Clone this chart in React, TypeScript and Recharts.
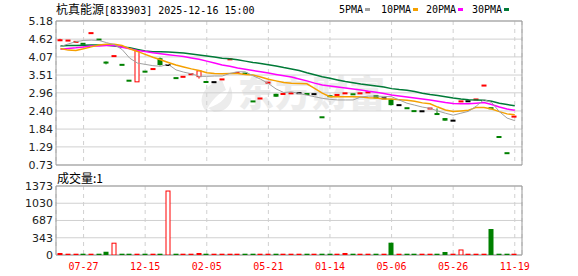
import React from 'react';
import { ComposedChart, Bar, Line, XAxis, YAxis, CartesianGrid, ReferenceArea } from 'recharts';

// ---- data ----
const tickIndex = [3, 11, 19, 27, 35, 43, 51, 59];
const tickDates = ['07-27', '12-15', '02-05', '05-21', '01-14', '05-06', '05-26', '11-19'];
const priceTicks = [0.73, 1.29, 1.84, 2.40, 2.96, 3.51, 4.07, 4.62, 5.18];
const volumeTicks = [0, 343, 687, 1030, 1373];

const opens = [4.58, 4.57, 4.53, 4.48, 4.80, 4.61, 3.90, 4.09, 3.83, 3.34, 3.30, 3.62, 3.69, 4.03, 3.82, 3.42, 3.45, 3.53, 3.46, 3.30, 3.29, 3.37, 3.99, 3.57, 3.56, 2.70, 2.78, 3.27, 2.93, 2.92, 2.94, 2.95, 2.93, 2.92, 2.21, 2.86, 2.89, 2.94, 2.92, 2.94, 2.97, 2.89, 2.79, 2.76, 2.58, 2.49, 2.40, 2.39, 2.47, 2.31, 2.18, 2.10, 2.69, 2.70, 2.75, 3.18, 2.49, 1.60, 1.10, 2.22];
const highs = [4.63, 4.58, 4.54, 4.48, 4.81, 4.61, 3.93, 4.10, 3.83, 3.34, 4.30, 3.62, 3.70, 4.05, 3.82, 3.42, 3.46, 3.54, 3.64, 3.30, 3.29, 3.38, 4.00, 3.58, 3.56, 2.70, 2.79, 3.28, 2.93, 2.93, 2.95, 2.95, 2.93, 2.92, 2.21, 2.86, 2.90, 2.95, 2.92, 2.95, 2.98, 2.89, 2.79, 2.77, 2.58, 2.49, 2.40, 2.39, 2.48, 2.48, 2.18, 2.10, 2.70, 2.70, 2.76, 3.19, 2.49, 1.60, 1.10, 2.23];
const lows = [4.56, 4.57, 4.53, 4.47, 4.80, 4.60, 3.84, 4.09, 3.82, 3.33, 3.30, 3.61, 3.69, 3.80, 3.82, 3.41, 3.45, 3.53, 3.40, 3.29, 3.29, 3.37, 3.99, 3.57, 3.55, 2.69, 2.78, 3.27, 2.84, 2.92, 2.94, 2.95, 2.92, 2.92, 2.20, 2.85, 2.89, 2.94, 2.91, 2.94, 2.97, 2.79, 2.79, 2.57, 2.58, 2.48, 2.39, 2.39, 2.47, 2.30, 2.10, 2.10, 2.69, 2.70, 2.75, 3.18, 2.48, 1.59, 1.09, 2.22];
const closes = [4.59, 4.58, 4.54, 4.47, 4.81, 4.60, 3.89, 4.10, 3.82, 3.33, 4.28, 3.61, 3.70, 3.82, 3.82, 3.41, 3.46, 3.54, 3.64, 3.29, 3.29, 3.38, 4.00, 3.58, 3.55, 2.69, 2.79, 3.28, 2.84, 2.93, 2.95, 2.95, 2.92, 2.92, 2.20, 2.85, 2.90, 2.95, 2.91, 2.95, 2.98, 2.79, 2.79, 2.58, 2.58, 2.48, 2.39, 2.39, 2.48, 2.30, 2.10, 2.10, 2.70, 2.70, 2.76, 3.19, 2.48, 1.59, 1.09, 2.23];
const volumes = [40, 20, 20, 20, 20, 20, 65, 235, 20, 20, 20, 20, 20, 20, 1273, 20, 20, 20, 40, 20, 20, 20, 20, 20, 20, 20, 20, 20, 20, 20, 20, 20, 20, 20, 20, 20, 20, 40, 20, 20, 20, 20, 20, 245, 20, 20, 20, 20, 20, 20, 60, 20, 100, 20, 20, 20, 517, 20, 20, 20];

const ma5 = [4.39, 4.47, 4.54, 4.58, 4.59, 4.58, 4.51, 4.45, 4.30, 4.03, 3.88, 3.84, 3.80, 3.78, 3.84, 3.67, 3.60, 3.55, 3.47, 3.47, 3.48, 3.48, 3.56, 3.61, 3.61, 3.49, 3.38, 3.25, 3.08, 2.97, 2.99, 2.94, 2.89, 2.84, 2.79, 2.76, 2.74, 2.74, 2.74, 2.83, 2.86, 2.86, 2.85, 2.84, 2.74, 2.64, 2.58, 2.52, 2.48, 2.40, 2.33, 2.27, 2.33, 2.39, 2.55, 2.75, 2.66, 2.38, 2.18, 2.10];
const ma10 = [4.33, 4.28, 4.27, 4.32, 4.38, 4.44, 4.46, 4.46, 4.42, 4.32, 4.24, 4.15, 4.06, 3.98, 3.90, 3.82, 3.76, 3.70, 3.65, 3.58, 3.56, 3.55, 3.56, 3.56, 3.53, 3.51, 3.45, 3.38, 3.33, 3.28, 3.26, 3.25, 3.24, 3.10, 2.95, 2.84, 2.84, 2.84, 2.84, 2.83, 2.81, 2.80, 2.77, 2.77, 2.75, 2.73, 2.70, 2.65, 2.62, 2.52, 2.43, 2.38, 2.40, 2.42, 2.51, 2.51, 2.46, 2.38, 2.31, 2.28];
const ma20 = [4.31, 4.33, 4.35, 4.38, 4.41, 4.41, 4.42, 4.42, 4.37, 4.32, 4.27, 4.24, 4.20, 4.17, 4.14, 4.11, 4.08, 4.04, 4.00, 3.94, 3.88, 3.82, 3.78, 3.73, 3.69, 3.65, 3.61, 3.57, 3.53, 3.49, 3.45, 3.39, 3.33, 3.26, 3.20, 3.17, 3.14, 3.11, 3.08, 3.05, 3.01, 2.98, 2.94, 2.89, 2.86, 2.83, 2.80, 2.77, 2.74, 2.70, 2.66, 2.63, 2.62, 2.62, 2.64, 2.66, 2.60, 2.52, 2.46, 2.42];
const ma30 = [4.41, 4.42, 4.42, 4.43, 4.44, 4.44, 4.43, 4.41, 4.38, 4.35, 4.30, 4.25, 4.23, 4.23, 4.22, 4.21, 4.19, 4.16, 4.13, 4.10, 4.07, 4.03, 4.01, 3.98, 3.94, 3.90, 3.87, 3.83, 3.79, 3.74, 3.70, 3.65, 3.58, 3.52, 3.46, 3.41, 3.36, 3.31, 3.27, 3.23, 3.20, 3.17, 3.14, 3.09, 3.06, 3.04, 3.00, 2.95, 2.91, 2.88, 2.84, 2.80, 2.77, 2.75, 2.74, 2.73, 2.70, 2.64, 2.60, 2.56];

const rows = closes.map((close, i) => ({
  i,
  open: opens[i],
  high: highs[i],
  low: lows[i],
  close,
  vol: volumes[i],
  ma5: ma5[i],
  ma10: ma10[i],
  ma20: ma20[i],
  ma30: ma30[i],
}));

// ---- styles ----
const X_DOMAIN: [number, number] = [-0.58, 59.94];
const RED = '#ff0000';
const GREEN = '#008000';
const BLACK = '#000000';
const C5 = '#a0a0a0';
const C10 = '#f5a000';
const C20 = '#ff00ff';
const C30 = '#007a37';
const GRID = '#d0d0d0';
const BORDER = '#999999';
const MONO = '"DejaVu Sans Mono", monospace';
const CJK = '"Noto Sans CJK SC", sans-serif';

const colorOf = (d: any) => (d.close > d.open ? RED : d.close < d.open ? GREEN : BLACK);

const Candle = (props: any) => {
  const { x, y, width, height, payload } = props;
  if (x == null || y == null || !payload) return null;
  const { open, close, high, low } = payload;
  const k = high > low ? height / (high - low) : 0;
  const py = (p: number) => y + (high - p) * k;
  const cx = Math.round(x + width / 2);
  const color = colorOf(payload);
  const top = py(Math.max(open, close));
  const bot = py(Math.min(open, close));
  const yh = py(high);
  const yl = py(low);
  if (bot - top < 2) {
    const mid = (top + bot) / 2;
    return (
      <g>
        {yl - yh > 1 && <line x1={cx} x2={cx} y1={yh} y2={yl} stroke={color} strokeWidth={1} />}
        <rect x={cx - 2.5} y={mid - 1} width={5} height={2} fill={color} />
      </g>
    );
  }
  if (close > open) {
    return (
      <g>
        <line x1={cx} x2={cx} y1={yh} y2={top} stroke={color} strokeWidth={1} />
        <line x1={cx} x2={cx} y1={bot} y2={yl} stroke={color} strokeWidth={1} />
        <rect x={cx - 2} y={top} width={4} height={bot - top} fill="#ffffff" stroke={color} strokeWidth={1} />
      </g>
    );
  }
  return (
    <g>
      <line x1={cx} x2={cx} y1={yh} y2={yl} stroke={color} strokeWidth={1} />
      <rect x={cx - 2.5} y={top} width={5} height={bot - top} fill={color} />
    </g>
  );
};

const VolBar = (props: any) => {
  const { x, y, width, height, payload } = props;
  if (x == null || y == null || !payload) return null;
  const h = Math.max(height, 1.3);
  const top = y + height - h;
  const up = payload.close >= payload.open;
  const cx = Math.round(x + width / 2);
  if (up && h > 3) {
    return <rect x={cx - 2} y={top} width={4} height={h} fill="#ffffff" stroke={RED} strokeWidth={1} />;
  }
  return <rect x={cx - 2.5} y={top} width={5} height={h} fill={up ? RED : GREEN} />;
};

const yTickStyle = { fontSize: 11, fill: '#222', fontFamily: '"DejaVu Sans", sans-serif' };

const legendItems = [
  { label: '5PMA', color: C5, left: 339 },
  { label: '10PMA', color: C10, left: 381 },
  { label: '20PMA', color: C20, left: 426 },
  { label: '30PMA', color: C30, left: 472 },
];

export default function App() {
  return (
    <div style={{ position: 'absolute', left: 0, top: 0, width: 578, height: 276, background: '#fff', overflow: 'hidden' }}>
      {/* watermark */}
      <div style={{ position: 'absolute', left: 238, top: 71, fontFamily: CJK, fontWeight: 900, fontSize: 36, lineHeight: '40px', color: '#ececec', letterSpacing: 1, whiteSpace: 'nowrap' }}>
        东方财富
      </div>
      <svg style={{ position: 'absolute', left: 0, top: 0 }} width={578} height={276}>
        <path d="M222 80 C 204 84, 196 100, 206 111 C 210 104, 214 96, 226 90 Z" fill="#ececec" />
        <path d="M214 112 C 230 112, 236 98, 230 86 C 228 96, 222 104, 208 108 Z" fill="#ececec" />
      </svg>

      {/* main price chart */}
      <div style={{ position: 'absolute', left: 0, top: 0 }}>
        <ComposedChart width={578} height={178} data={rows} margin={{ top: 21, right: 56, bottom: 13, left: 0 }}>
          <CartesianGrid horizontal vertical={false} stroke={GRID} />
          <CartesianGrid horizontal={false} vertical stroke={GRID} strokeDasharray="4 4" />
          <XAxis dataKey="i" type="number" domain={X_DOMAIN} allowDataOverflow hide ticks={tickIndex} interval={0} />
          <YAxis
            type="number"
            domain={[0.73, 5.18]}
            allowDataOverflow
            ticks={priceTicks}
            interval={0}
            width={56}
            tickSize={0}
            tickMargin={3}
            axisLine={false}
            tickLine={false}
            tick={yTickStyle}
            tickFormatter={(v: number) => v.toFixed(2)}
          />
          <ReferenceArea x1={X_DOMAIN[0]} x2={X_DOMAIN[1]} y1={0.73} y2={5.18} fill="none" fillOpacity={0} stroke={BORDER} strokeWidth={1} />
          <Bar dataKey={(d: any) => [d.low, d.high]} barSize={5} shape={Candle} isAnimationActive={false} />
          <Line type="linear" dataKey="ma30" stroke={C30} strokeWidth={1.5} dot={false} activeDot={false} isAnimationActive={false} />
          <Line type="linear" dataKey="ma20" stroke={C20} strokeWidth={1.5} dot={false} activeDot={false} isAnimationActive={false} />
          <Line type="linear" dataKey="ma10" stroke={C10} strokeWidth={1.5} dot={false} activeDot={false} isAnimationActive={false} />
          <Line type="linear" dataKey="ma5" stroke={C5} strokeWidth={1} dot={false} activeDot={false} isAnimationActive={false} />
        </ComposedChart>
      </div>

      {/* volume chart */}
      <div style={{ position: 'absolute', left: 0, top: 170 }}>
        <ComposedChart width={578} height={106} data={rows} margin={{ top: 16, right: 56, bottom: 0, left: 0 }}>
          <CartesianGrid horizontal vertical={false} stroke={GRID} />
          <CartesianGrid horizontal={false} vertical stroke={GRID} strokeDasharray="4 4" />
          <XAxis
            dataKey="i"
            type="number"
            domain={X_DOMAIN}
            allowDataOverflow
            ticks={tickIndex}
            interval={0}
            height={21}
            tickSize={0}
            tickMargin={8}
            axisLine={false}
            tickLine={false}
            tick={{ fontSize: 10, fill: RED, fontFamily: MONO }}
            tickFormatter={(v: number) => tickDates[tickIndex.indexOf(v)] ?? ''}
          />
          <YAxis
            type="number"
            domain={[0, 1373]}
            allowDataOverflow
            ticks={volumeTicks}
            interval={0}
            width={56}
            tickSize={0}
            tickMargin={3}
            axisLine={false}
            tickLine={false}
            tick={yTickStyle}
          />
          <ReferenceArea x1={X_DOMAIN[0]} x2={X_DOMAIN[1]} y1={0} y2={1373} fill="none" fillOpacity={0} stroke={BORDER} strokeWidth={1} />
          <Bar dataKey="vol" barSize={5} shape={VolBar} isAnimationActive={false} />
        </ComposedChart>
      </div>

      {/* title */}
      <div style={{ position: 'absolute', left: 56, top: 1, fontSize: 12, lineHeight: '16px', whiteSpace: 'nowrap', color: '#000' }}>
        <span style={{ fontFamily: CJK }}>杭真能源</span>
        <span style={{ fontFamily: MONO, fontSize: 10 }}>[833903] 2025-12-16 15:00</span>
      </div>

      {/* legend */}
      {legendItems.map((it) => (
        <div key={it.label} style={{ position: 'absolute', left: it.left, top: 2, height: 14, display: 'flex', alignItems: 'center', whiteSpace: 'nowrap' }}>
          <span style={{ fontFamily: MONO, fontSize: 10, color: '#000' }}>{it.label}</span>
          <span style={{ display: 'inline-block', width: 5, height: 3, background: it.color, marginLeft: 2 }} />
        </div>
      ))}

      {/* volume label */}
      <div style={{ position: 'absolute', left: 57, top: 170, fontSize: 12, lineHeight: '16px', whiteSpace: 'nowrap', color: '#000', fontFamily: CJK }}>
        成交量:1
      </div>
    </div>
  );
}
